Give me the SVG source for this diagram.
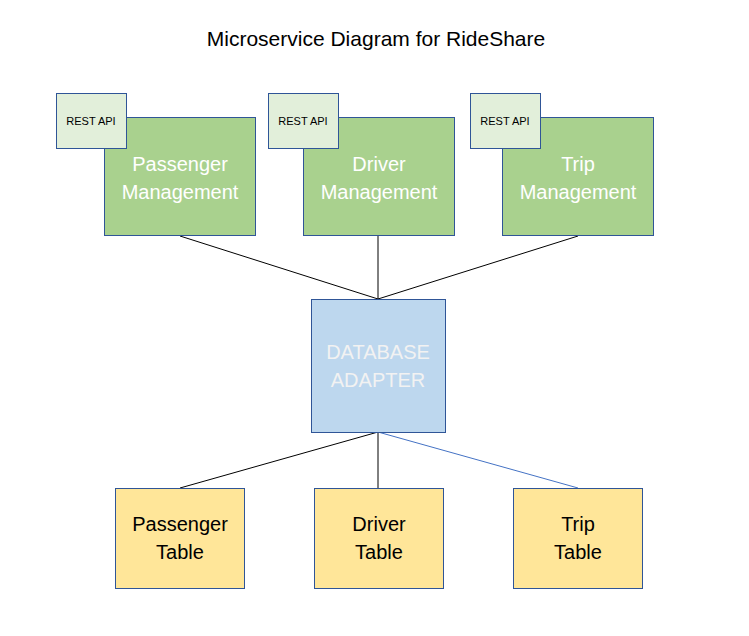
<svg xmlns="http://www.w3.org/2000/svg" width="749" height="636" viewBox="0 0 749 636">
<style>
.svc{fill:#A9D18E;stroke:#2F5597;stroke-width:1}
.api{fill:#E2EFDA;stroke:#2F5597;stroke-width:1}
.db{fill:#BDD7EE;stroke:#2F5597;stroke-width:1}
.tbl{fill:#FFE699;stroke:#2F5597;stroke-width:1}
text{font-family:"Liberation Sans",Arial,sans-serif;text-anchor:middle}
.wt{fill:#FFFFFF;font-size:20px}
.bt{fill:#000000;font-size:20px}
.st{fill:#000000;font-size:11px}
.title{fill:#000000;font-size:21px}
</style>
<rect width="749" height="636" fill="#FFFFFF"/>
<text class="title" x="376" y="46">Microservice Diagram for RideShare</text>
<g id="connectors" fill="none" stroke-width="1">
<line x1="180" y1="236" x2="378" y2="299" stroke="#000"/>
<line x1="378" y1="236" x2="378" y2="299" stroke="#000"/>
<line x1="578" y1="236" x2="378" y2="299" stroke="#000"/>
<line x1="378" y1="432" x2="180" y2="488" stroke="#000"/>
<line x1="378" y1="432" x2="378" y2="488" stroke="#000"/>
<line x1="378" y1="432" x2="578" y2="488" stroke="#4472C4"/>
</g>
<g id="passenger-mgmt">
<rect class="svc" x="104.5" y="117.5" width="151" height="118"/>
<text class="wt" x="180" y="171">Passenger</text>
<text class="wt" x="180" y="199">Management</text>
</g>
<g id="passenger-api">
<rect class="api" x="56.5" y="93.5" width="70" height="55"/>
<text class="st" x="91" y="125">REST API</text>
</g>
<g id="driver-mgmt">
<rect class="svc" x="303.5" y="117.5" width="151" height="118"/>
<text class="wt" x="379" y="171">Driver</text>
<text class="wt" x="379" y="199">Management</text>
</g>
<g id="driver-api">
<rect class="api" x="268.5" y="93.5" width="70" height="55"/>
<text class="st" x="303" y="125">REST API</text>
</g>
<g id="trip-mgmt">
<rect class="svc" x="502.5" y="117.5" width="151" height="118"/>
<text class="wt" x="578" y="171">Trip</text>
<text class="wt" x="578" y="199">Management</text>
</g>
<g id="trip-api">
<rect class="api" x="470.5" y="93.5" width="70" height="55"/>
<text class="st" x="505" y="125">REST API</text>
</g>
<g id="db-adapter">
<rect class="db" x="311.5" y="299.5" width="134" height="133"/>
<text class="wt" x="378" y="359" style="fill:#F2F2F2">DATABASE</text>
<text class="wt" x="378" y="387" style="fill:#F2F2F2">ADAPTER</text>
</g>
<g id="passenger-table">
<rect class="tbl" x="115.5" y="488.5" width="129" height="100"/>
<text class="bt" x="180" y="531">Passenger</text>
<text class="bt" x="180" y="559">Table</text>
</g>
<g id="driver-table">
<rect class="tbl" x="314.5" y="488.5" width="129" height="100"/>
<text class="bt" x="379" y="531">Driver</text>
<text class="bt" x="379" y="559">Table</text>
</g>
<g id="trip-table">
<rect class="tbl" x="513.5" y="488.5" width="129" height="100"/>
<text class="bt" x="578" y="531">Trip</text>
<text class="bt" x="578" y="559">Table</text>
</g>
</svg>
